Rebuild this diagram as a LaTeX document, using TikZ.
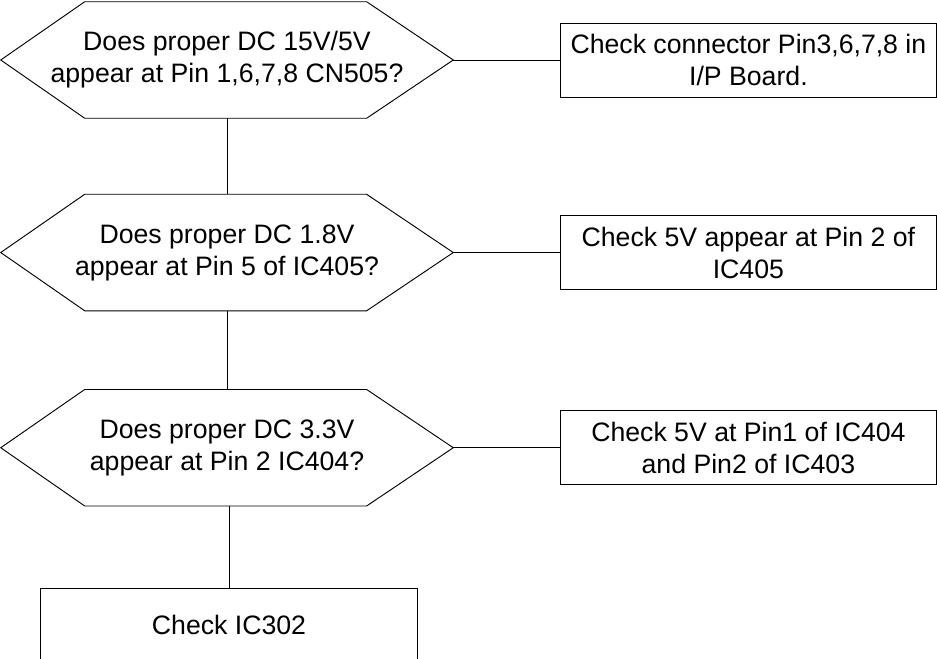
\documentclass[tikz,border=0pt]{standalone}
\usepackage{fontspec}
\setmainfont{Liberation Sans}
\usetikzlibrary{positioning}

\begin{document}
\begin{tikzpicture}[
    query/.style={minimum width=339pt, minimum height=87pt, inner sep=0pt, align=center, font=\fontsize{20}{24}\selectfont},
    checkbox/.style={draw, line width=0.7pt, minimum width=282pt, minimum height=55.5pt, inner sep=0pt, align=center, font=\fontsize{20}{24}\selectfont},
    link/.style={line width=0.7pt}
]
\useasboundingbox (0,0) rectangle (702.75pt,-494.25pt);

\node[query] (q1) at (170.25pt,-45pt) {Does proper DC 15V/5V\\appear at Pin 1,6,7,8 CN505?};
\node[checkbox, right=80pt of q1] (c1) {Check connector Pin3,6,7,8 in\\I/P Board.};

\node[query, below=57pt of q1] (q2) {Does proper DC 1.8V\\appear at Pin 5 of IC405?};
\node[checkbox, right=80pt of q2] (c2) {Check 5V appear at Pin 2 of\\IC405};

\node[query, below=59pt of q2] (q3) {Does proper DC 3.3V\\appear at Pin 2 IC404?};
\node[checkbox, right=80pt of q3] (c3) {Check 5V at Pin1 of IC404\\and Pin2 of IC403};

\node[checkbox, minimum width=283pt, minimum height=55pt, below=61.5pt of q3, xshift=1.5pt] (c4) {Check IC302};

\foreach \q in {q1,q2,q3}
  \draw[link] (\q.west) -- ([xshift=63pt]\q.north west) -- ([xshift=-65pt]\q.north east)
    -- (\q.east) -- ([xshift=-65pt]\q.south east) -- ([xshift=63pt]\q.south west) -- cycle;

\draw[link] (q1) -- (c1);
\draw[link] (q2) -- (c2);
\draw[link] (q3) -- (c3);
\draw[link] (q1.south) -- (q2.north);
\draw[link] (q2.south) -- (q3.north);
\draw[link] (q3.south -| c4.north) -- (c4.north);
\end{tikzpicture}
\end{document}
